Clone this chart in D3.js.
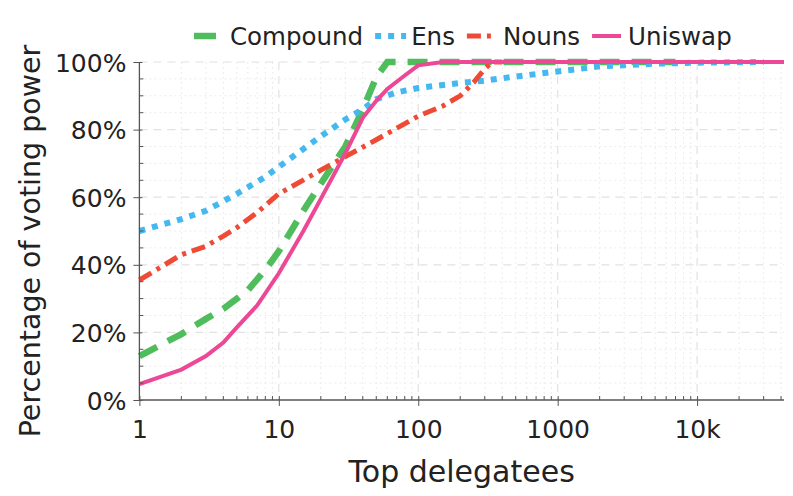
<!DOCTYPE html>
<html>
<head>
<meta charset="utf-8">
<script src="https://cdn.jsdelivr.net/npm/d3@7"></script>
<style>
  body { margin: 0; background: #fff; }
  svg text { font-family: "DejaVu Sans", sans-serif; fill: #222; }
</style>
</head>
<body>
<div id="chart"></div>
<script>
// Cumulative share of voting power held by top N delegatees
var compound = [[1, 13], [2, 19.5], [3, 24], [4, 27], [5, 30], [6, 32.5], [8, 38.5], [10, 44], [15, 56], [20, 64], [30, 75], [40, 86], [50, 95.5], [60, 100], [7000, 100]];
var ens = [[1, 50], [2, 53.5], [3, 56], [5, 61], [8, 66], [10, 69], [20, 78], [30, 83], [40, 86], [50, 89], [70, 91], [100, 92.3], [200, 93.8], [300, 94.5], [500, 95.7], [1000, 97.2], [2000, 98.7], [5000, 99.5], [10000, 99.8], [30000, 100]];
var nouns = [[1, 35.5], [2, 43], [3, 45.5], [4, 48.5], [5, 51], [7, 55.5], [10, 61], [20, 68], [30, 72], [50, 77], [100, 84], [150, 87], [200, 90], [250, 94], [300, 98], [340, 100], [400, 100]];
var uniswap = [[1, 4.7], [2, 9], [3, 13], [4, 17], [5, 21.5], [7, 28], [10, 37.5], [15, 50], [20, 59.5], [30, 73], [40, 83.5], [50, 88.5], [60, 92], [80, 96], [100, 99], [150, 100], [42000, 100]];

var seriesNames = ["Compound", "Ens", "Nouns", "Uniswap"];
var seriesData = [compound, ens, nouns, uniswap];
var colors = ["#50bd5c", "#45b9ef", "#ef4a35", "#ec4895"];
var dashes = ["20,12", "6,7", "14,6,4,6", null];
var widths = [6.5, 6, 5, 4];

var xTicks = [1, 10, 100, 1000, 10000];
var xTickLabels = ["1", "10", "100", "1000", "10k"];
var yTicks = [0, 20, 40, 60, 80, 100];

var margin = {top: 62, right: 9, bottom: 96, left: 139.4},
    width = 793 - margin.left - margin.right,
    height = 496 - margin.top - margin.bottom;

var svg = d3.select("#chart")
    .append("svg")
        .attr("width", 793)
        .attr("height", 496)
    .append("g")
        .attr("transform", "translate(" + margin.left + "," + margin.top + ")");

var xScale = d3.scaleLog()
    .domain([1, 42000])
    .range([0, width]);

var yScale = d3.scaleLinear()
    .domain([0, 100])
    .range([height, 0]);

// minor ticks: 2..9 in each decade
var xMinor = [];
for (var p = 1; p <= 10000; p *= 10) {
    for (var k = 2; k <= 9; k++) {
        if (p * k <= 42000) xMinor.push(p * k);
    }
}
var yMinor = d3.range(0, 101, 5).filter(v => v % 20 != 0);

// grid
var grid = svg.append("g");
grid.selectAll(".xminor").data(xMinor).enter().append("line")
    .attr("x1", d => xScale(d)).attr("x2", d => xScale(d))
    .attr("y1", 0).attr("y2", height)
    .attr("stroke", "#ececec").attr("stroke-width", 1).attr("stroke-dasharray", "2,3");
grid.selectAll(".yminor").data(yMinor).enter().append("line")
    .attr("x1", 0).attr("x2", width)
    .attr("y1", d => yScale(d)).attr("y2", d => yScale(d))
    .attr("stroke", "#ececec").attr("stroke-width", 1).attr("stroke-dasharray", "2,3");
grid.selectAll(".xmajor").data(xTicks.slice(1)).enter().append("line")
    .attr("x1", d => xScale(d)).attr("x2", d => xScale(d))
    .attr("y1", 0).attr("y2", height)
    .attr("stroke", "#e2e2e2").attr("stroke-width", 1.2).attr("stroke-dasharray", "8,6");
grid.selectAll(".ymajor").data(yTicks.slice(1)).enter().append("line")
    .attr("x1", 0).attr("x2", width)
    .attr("y1", d => yScale(d)).attr("y2", d => yScale(d))
    .attr("stroke", "#e2e2e2").attr("stroke-width", 1.2).attr("stroke-dasharray", "8,6");

// lines
var line = d3.line()
    .x(d => xScale(d[0]))
    .y(d => yScale(d[1]));

seriesData.forEach(function(data, i) {
    svg.append("path")
        .datum(data)
        .attr("d", line)
        .attr("fill", "none")
        .attr("stroke", colors[i])
        .attr("stroke-width", widths[i])
        .attr("stroke-dasharray", dashes[i]);
});

// axes
var xAxis = svg.append("g")
    .attr("transform", "translate(0," + height + ")")
    .call(d3.axisBottom(xScale).tickValues(xTicks).tickSize(6)
        .tickFormat((d, i) => xTickLabels[i]));
xAxis.selectAll(".tick line").attr("y1", -4);
xAxis.append("g").selectAll("line").data(xMinor).enter().append("line")
    .attr("x1", d => xScale(d)).attr("x2", d => xScale(d))
    .attr("y1", 0).attr("y2", -4).attr("stroke", "#555");

var yAxis = svg.append("g")
    .call(d3.axisLeft(yScale).tickValues(yTicks).tickSize(6)
        .tickFormat(d => d + "%"));
yAxis.selectAll(".tick line").attr("x1", 3);
yAxis.append("g").selectAll("line").data(yMinor).enter().append("line")
    .attr("x1", 0).attr("x2", 4)
    .attr("y1", d => yScale(d)).attr("y2", d => yScale(d)).attr("stroke", "#555");

[xAxis, yAxis].forEach(function(ax) {
    ax.select(".domain").attr("stroke", "#555").attr("stroke-width", 1.3);
    ax.selectAll(".tick line").attr("stroke", "#555");
    ax.selectAll(".tick text")
        .attr("font-size", "25px")
        .attr("font-family", "DejaVu Sans")
        .attr("fill", "#222");
});
xAxis.selectAll(".tick text").attr("dy", "1.15em");
yAxis.selectAll(".tick text").attr("x", -13).attr("dy", "0.36em");
xAxis.select(".domain").attr("d", "M0,0H" + width);
yAxis.select(".domain").attr("d", "M0," + height + "V0");

// axis titles
svg.append("text")
    .attr("x", width / 2)
    .attr("y", height + 82)
    .attr("text-anchor", "middle")
    .attr("font-size", "30px")
    .text("Top delegatees");

svg.append("text")
    .attr("transform", "rotate(-90)")
    .attr("x", -179)
    .attr("y", -margin.left + 40)
    .attr("text-anchor", "middle")
    .attr("font-size", "28.5px")
    .text("Percentage of voting power");

// legend
var legend = svg.append("g")
    .attr("transform", "translate(" + (194 - margin.left) + "," + (36 - margin.top) + ")");
var lx = 0;
var swatchLen = [22, 31, 25, 29];
var textGap = [14, 5, 11, 7];
seriesNames.forEach(function(name, i) {
    legend.append("line")
        .attr("x1", lx).attr("x2", lx + swatchLen[i])
        .attr("y1", 0).attr("y2", 0)
        .attr("stroke", colors[i])
        .attr("stroke-width", widths[i])
        .attr("stroke-dasharray", i == 0 ? null : dashes[i]);
    var t = legend.append("text")
        .attr("x", lx + swatchLen[i] + textGap[i])
        .attr("y", 0)
        .attr("dy", "0.36em")
        .attr("font-size", "24.5px")
        .text(name);
    lx += swatchLen[i] + textGap[i] + t.node().getComputedTextLength() + 12;
});
</script>
</body>
</html>
